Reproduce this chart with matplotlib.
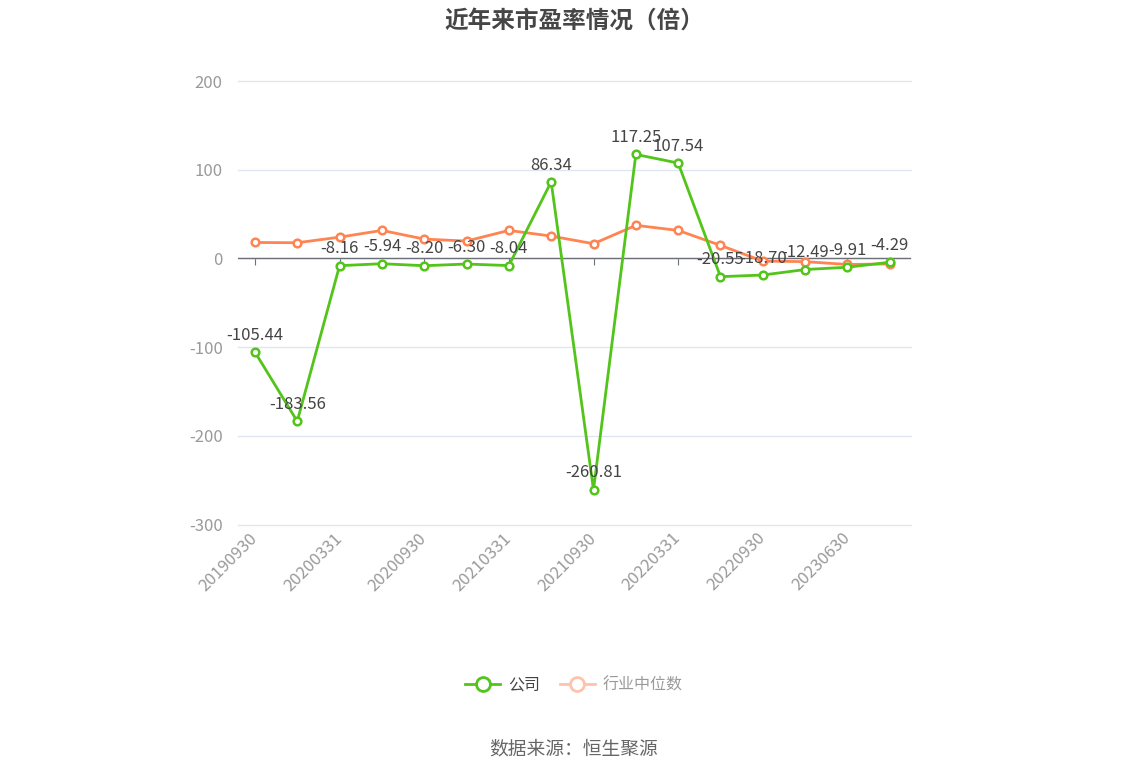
import matplotlib
matplotlib.use("Agg")
import matplotlib.pyplot as plt
from matplotlib.lines import Line2D

plt.rcParams['font.family'] = ['Noto Sans CJK SC', 'DejaVu Sans']
plt.rcParams['axes.unicode_minus'] = False

# ---------- data ----------
dates = ["20190930", "20191231", "20200331", "20200630", "20200930", "20201231",
         "20210331", "20210630", "20210930", "20211231", "20220331", "20220630",
         "20220930", "20221231", "20230630", "20230930"]
company_pe = [-105.44, -183.56, -8.16, -5.94, -8.20, -6.30, -8.04, 86.34,
              -260.81, 117.25, 107.54, -20.55, -18.70, -12.49, -9.91, -4.29]
industry_pe = [18.0, 17.7, 24.0, 31.6, 21.8, 19.6, 31.6, 25.2,
               16.6, 37.3, 31.6, 14.7, -3.0, -3.6, -6.8, -6.2]

GREEN = "#52c41a"
ORANGE = "#ff8452"
GRID = "#e0e6f1"
AXIS = "#6e7079"
TICK_TXT = "#9a9a9a"

fig = plt.figure(figsize=(11.48, 7.76), dpi=100)
ax = fig.add_axes([0.2073, 0.324, 0.5862, 0.5716])

x = list(range(len(dates)))
ax.axhline(0, color=AXIS, lw=1, zorder=2)
ax.plot(x, industry_pe, color=ORANGE, lw=2, marker="o", ms=5.5,
        mfc="white", mec=ORANGE, mew=1.8, zorder=3)
ax.plot(x, company_pe, color=GREEN, lw=2, marker="o", ms=5.5,
        mfc="white", mec=GREEN, mew=1.8, zorder=4)

for xi, v in zip(x, company_pe):
    ax.annotate(f"{v:.2f}", xy=(xi, v), xytext=(0, 6), textcoords="offset points",
                ha="center", va="bottom", fontsize=12, color="#444444", zorder=5)

ax.set_xlim(-0.4, 15.5)
ax.set_ylim(-300, 200)
ax.set_yticks([-300, -200, -100, 0, 100, 200])
ax.yaxis.grid(True, color=GRID, lw=1)
for gl in ax.get_ygridlines():
    gl.set_clip_on(False)
ax.set_axisbelow(True)
for s in ax.spines.values():
    s.set_visible(False)
ax.tick_params(axis="y", length=0, labelsize=12, labelcolor=TICK_TXT, pad=11)

# bottom labels (every other period)
ax.set_xticks(x[::2])
ax.set_xticklabels(dates[::2], rotation=45, ha="right", va="center",
                   rotation_mode="anchor", fontsize=12, color=TICK_TXT)
ax.tick_params(axis="x", length=0, pad=8)

# tick marks on the zero line
zero_ax = ax.secondary_xaxis(0.6)
zero_ax.set_xticks(x[::2])
zero_ax.set_xticklabels([])
for s in zero_ax.spines.values():
    s.set_visible(False)
zero_ax.xaxis.set_ticks_position("bottom")
zero_ax.tick_params(axis="x", direction="out", length=5, color=AXIS)

fig.text(0.5, 0.974, "近年来市盈率情况（倍）", ha="center", va="center",
         fontsize=17, fontweight="bold", color="#464646")

handles = [
    Line2D([0], [0], color=GREEN, lw=2, marker="o", ms=10, mfc="white",
           mec=GREEN, mew=2, label="公司"),
    Line2D([0], [0], color="#ffc2ad", lw=2, marker="o", ms=10, mfc="white",
           mec="#ffc2ad", mew=2, label="行业中位数"),
]
leg = fig.legend(handles=handles, loc="center", bbox_to_anchor=(0.5, 0.117),
                 ncol=2, frameon=False, fontsize=11.5, handlelength=2.2,
                 columnspacing=1.2, handletextpad=0.5)
leg.get_texts()[0].set_color("#444444")
leg.get_texts()[1].set_color("#9a9a9a")

fig.text(0.5, 0.035, "数据来源：恒生聚源", ha="center", va="center",
         fontsize=13.5, color="#666666")

fig.savefig("out.png", dpi=100, facecolor="white")
